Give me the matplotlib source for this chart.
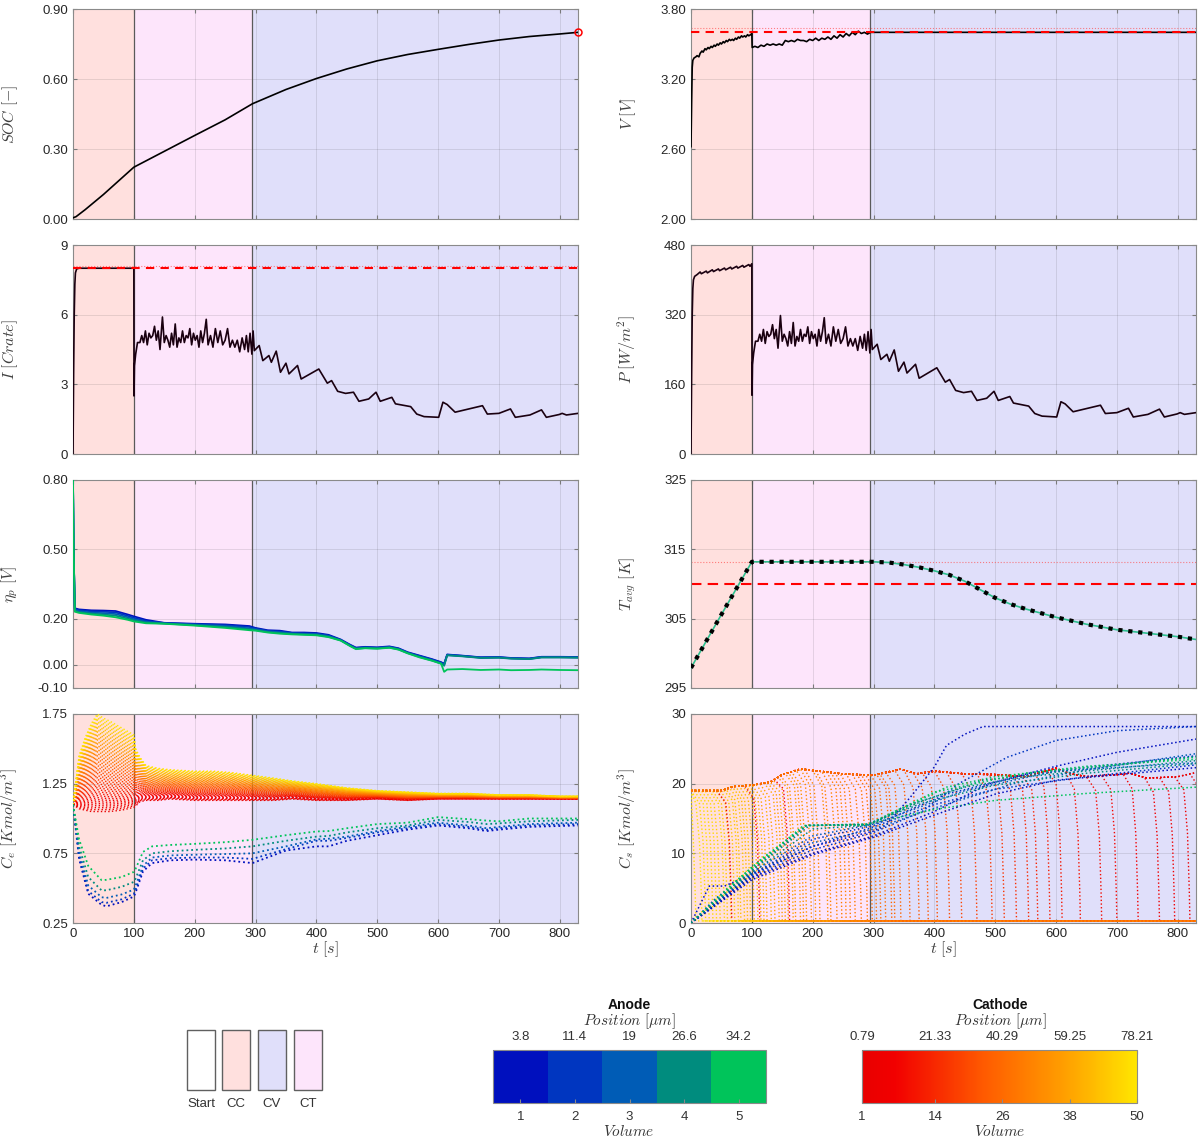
import numpy as np
import matplotlib.pyplot as plt
from matplotlib.colors import ListedColormap, LinearSegmentedColormap, BoundaryNorm, Normalize
from matplotlib.cm import ScalarMappable
from matplotlib.patches import Rectangle

plt.rcParams['font.family'] = ['Liberation Sans', 'DejaVu Sans']
plt.rcParams['mathtext.fontset'] = 'cm'
plt.rcParams['axes.unicode_minus'] = False

# ---------------- data ----------------
phase_edges = [0, 100, 295, 830]
phase_names = ['CC', 'CT', 'CV']

soc_t = [0, 5, 20, 50, 100, 150, 200, 250, 295, 350, 400, 450, 500, 550, 600, 650, 700, 750, 800, 830]
soc = [0.005, 0.01, 0.04, 0.105, 0.222, 0.29, 0.358, 0.425, 0.494, 0.555, 0.602, 0.643, 0.678, 0.705,
       0.727, 0.748, 0.767, 0.782, 0.793, 0.80]

v_t = [0, 1, 2, 3, 5, 8, 10, 13, 15, 18, 20, 23, 25, 28, 30, 33, 35, 38, 40, 43, 45, 48, 50,
       53, 55, 58, 60, 63, 65, 68, 70, 73, 75, 78, 80, 83, 85, 88, 90, 93, 95, 98, 100,
       100.5, 105, 110, 115, 120, 125, 130, 135, 140, 145, 150, 155, 160, 165, 170, 175, 180, 185, 190, 195, 200,
       205, 210, 215, 220, 225, 230, 235, 240, 245, 250, 255, 260, 265, 270, 275, 280, 285, 290, 295, 830]
v = [2.62, 3.00, 3.30, 3.36, 3.38, 3.39, 3.40, 3.39, 3.42, 3.44, 3.43, 3.46, 3.45, 3.47, 3.46, 3.48, 3.47, 3.49, 3.48, 3.50, 3.49, 3.51, 3.50,
     3.52, 3.51, 3.53, 3.52, 3.54, 3.53, 3.54, 3.53, 3.55, 3.54, 3.56, 3.55, 3.57, 3.56, 3.57, 3.56, 3.58, 3.57, 3.58, 3.59,
     3.47, 3.48, 3.47, 3.49, 3.48, 3.50, 3.49, 3.50, 3.49, 3.50, 3.49, 3.53, 3.52, 3.53, 3.52, 3.54, 3.53, 3.53, 3.52, 3.54, 3.53,
     3.55, 3.53, 3.55, 3.54, 3.56, 3.54, 3.57, 3.55, 3.58, 3.56, 3.59, 3.57, 3.60, 3.58, 3.61, 3.59, 3.60, 3.585, 3.60, 3.60]
v_cut = 3.60
v_cut2 = 3.64

i_cc_t = [0, 1, 2, 3, 4, 6, 10, 100]
i_cc = [0, 3.5, 6.0, 7.3, 7.8, 7.97, 8.0, 8.0]
p_cc_t = [0, 1, 2, 3, 4, 6, 10, 15, 17, 25, 27, 35, 37, 45, 47, 55, 57, 65, 67, 75, 77, 85, 87, 95, 97, 100]
p_cc = [0, 180, 320, 380, 400, 408, 412, 418, 414, 420, 416, 423, 419, 425, 421, 427, 423, 429, 425, 431, 427,
        433, 429, 435, 431, 437]

rest_t = [100.3, 101, 103, 106, 110, 113, 116, 119, 122, 125, 128, 131, 134, 137, 140, 143, 147, 150, 153, 156,
          159, 162, 165, 168, 171, 174, 177, 180, 183, 186, 189, 192, 195, 198, 201, 204, 207, 210, 213, 216,
          219, 222, 226, 230, 234, 238, 242, 246, 250, 254, 258, 262, 266, 270, 274, 278, 282, 285, 288, 291, 294, 296,
          298, 306, 312, 322, 326, 334, 341, 350, 355, 369, 375, 404, 418, 425, 435, 448, 461, 470, 486, 498,
          505, 524, 530, 555, 565, 577, 601, 608, 615, 628, 673, 681, 700, 719, 727, 751, 770, 778, 799, 804, 811, 830]
i_rest = [2.5, 3.8, 4.3, 4.8, 4.8, 5.1, 4.8, 5.3, 4.7, 5.2, 5.0, 5.1, 5.5, 4.9, 5.3, 4.5, 5.9, 4.8, 5.1, 4.9,
          4.6, 5.2, 4.7, 5.6, 4.6, 5.0, 4.8, 5.3, 4.8, 5.1, 5.0, 5.4, 4.7, 5.2, 4.9, 5.1, 4.6, 5.3, 4.8, 5.2,
          5.8, 4.7, 5.1, 4.6, 5.4, 4.8, 5.3, 4.7, 4.9, 5.4, 4.6, 4.9, 4.6, 4.9, 4.4, 5.0, 4.5, 5.1, 4.4, 5.2, 4.3, 5.3,
          4.45, 4.67, 4.02, 4.24, 3.95, 4.43, 3.52, 3.91, 3.45, 3.81, 3.23, 3.66, 3.05, 3.16, 2.70, 2.61, 2.66, 2.27, 2.37, 2.66,
          2.27, 2.44, 2.16, 2.04, 1.72, 1.61, 1.58, 2.23, 2.13, 1.80, 2.08, 1.72, 1.75, 1.94, 1.58, 1.68, 1.90, 1.58, 1.70, 1.75, 1.68, 1.75]
p_rest = [135, 205, 232, 259, 259, 275, 259, 286, 254, 281, 270, 275, 297, 265, 286, 243, 318, 259, 275, 265,
          248, 281, 254, 302, 248, 270, 259, 286, 259, 275, 270, 292, 254, 281, 265, 275, 248, 286, 259, 281,
          313, 254, 275, 248, 292, 259, 286, 254, 265, 292, 248, 265, 248, 265, 238, 270, 243, 275, 238, 281, 232, 286,
          240, 252, 217, 229, 213, 239, 190, 211, 186, 206, 174, 198, 165, 171, 146, 141, 144, 123, 128, 144,
          123, 132, 117, 110, 93, 87, 85, 120, 115, 97, 112, 93, 95, 105, 85, 91, 103, 85, 92, 95, 91, 95]
i_cut = 8.0
i_cut2 = 8.1

eta_t = [0, 1, 3, 10, 30, 50, 70, 90, 100, 120, 150, 200, 250, 290, 300, 320, 340, 360, 380, 400, 420,
         440, 455, 465, 480, 500, 520, 535, 550, 570, 590, 605, 610, 615, 640, 670, 700, 720, 750, 770, 800, 830]
eta_v1 = [0.80, 0.50, 0.245, 0.240, 0.236, 0.235, 0.233, 0.218, 0.210, 0.195, 0.182, 0.178, 0.175, 0.168, 0.160, 0.150,
          0.148, 0.140, 0.140, 0.138, 0.130, 0.110, 0.088, 0.075, 0.078, 0.076, 0.080, 0.072, 0.055, 0.040, 0.025,
          0.012, 0.005, 0.045, 0.040, 0.033, 0.034, 0.030, 0.028, 0.035, 0.035, 0.034]
eta_v2 = [0.80, 0.50, 0.242, 0.236, 0.232, 0.230, 0.227, 0.212, 0.204, 0.190, 0.181, 0.176, 0.172, 0.164, 0.157, 0.147,
          0.145, 0.138, 0.137, 0.135, 0.127, 0.108, 0.086, 0.073, 0.076, 0.074, 0.078, 0.070, 0.053, 0.038, 0.023,
          0.010, 0.003, 0.044, 0.039, 0.032, 0.033, 0.029, 0.027, 0.034, 0.034, 0.033]
eta_v3 = [0.80, 0.50, 0.238, 0.232, 0.226, 0.224, 0.220, 0.206, 0.198, 0.186, 0.180, 0.174, 0.168, 0.158, 0.154, 0.145,
          0.141, 0.136, 0.134, 0.133, 0.125, 0.107, 0.085, 0.071, 0.075, 0.073, 0.077, 0.069, 0.052, 0.036, 0.021,
          0.008, 0.000, 0.043, 0.038, 0.031, 0.032, 0.028, 0.026, 0.033, 0.033, 0.032]
eta_v4 = [0.80, 0.50, 0.234, 0.228, 0.222, 0.218, 0.213, 0.200, 0.193, 0.183, 0.179, 0.172, 0.164, 0.154, 0.151, 0.142,
          0.138, 0.134, 0.132, 0.130, 0.122, 0.106, 0.083, 0.070, 0.073, 0.071, 0.075, 0.067, 0.051, 0.034, 0.019,
          0.006, -0.004, 0.041, 0.037, 0.030, 0.031, 0.027, 0.025, 0.032, 0.032, 0.031]
eta_v5 = [0.80, 0.50, 0.230, 0.225, 0.218, 0.213, 0.206, 0.195, 0.188, 0.180, 0.178, 0.170, 0.160, 0.150, 0.148, 0.140,
          0.135, 0.132, 0.130, 0.128, 0.120, 0.105, 0.082, 0.068, 0.072, 0.070, 0.074, 0.066, 0.050, 0.032, 0.018,
          0.005, -0.030, -0.020, -0.018, -0.022, -0.020, -0.023, -0.022, -0.020, -0.022, -0.023]

temp_t = [0, 50, 100, 150, 200, 250, 300, 325, 350, 375, 400, 425, 450, 475, 500, 525, 550, 600, 650, 700, 750, 800, 830]
temp = [297.9, 305.6, 313.2, 313.2, 313.2, 313.2, 313.2, 313.1, 312.8, 312.4, 311.9, 311.3, 310.4, 309.2, 308.0,
        307.1, 306.4, 305.2, 304.2, 303.4, 302.9, 302.4, 302.0]
temp_ref = 310.0
temp_ref2 = 313.2

# electrolyte concentration: cathode bundle bounded by volume 1 (low) and volume 50 (high)
ce_t = [0, 10, 20, 30, 40, 50, 60, 80, 100, 103, 110, 120, 140, 160, 200, 230, 260, 295, 330, 360, 400,
        450, 500, 550, 600, 650, 700, 750, 800, 830]
ce_cath_low = [1.10, 1.07, 1.06, 1.05, 1.05, 1.05, 1.05, 1.06, 1.08, 1.09, 1.12, 1.13, 1.13, 1.14, 1.13, 1.13, 1.13,
               1.13, 1.13, 1.14, 1.13, 1.13, 1.14, 1.13, 1.14, 1.14, 1.14, 1.14, 1.14, 1.14]
ce_cath_high = [1.10, 1.45, 1.58, 1.68, 1.75, 1.72, 1.70, 1.65, 1.60, 1.50, 1.44, 1.38, 1.36, 1.35, 1.34, 1.34, 1.33,
                1.31, 1.29, 1.27, 1.25, 1.22, 1.20, 1.19, 1.18, 1.18, 1.17, 1.17, 1.16, 1.16]
ce_an_t = [0, 10, 25, 47, 55, 80, 100, 103, 115, 130, 160, 200, 250, 295, 350, 400, 420, 450, 500, 550, 600,
           650, 680, 700, 750, 830]
ce_an_v5 = [1.10, 0.85, 0.66, 0.557, 0.56, 0.58, 0.617, 0.64, 0.76, 0.80, 0.81, 0.818, 0.83, 0.847, 0.88, 0.907,
            0.91, 0.93, 0.96, 0.97, 1.01, 0.995, 0.985, 0.98, 1.0, 1.0]
ce_an_v4 = [1.10, 0.80, 0.58, 0.484, 0.485, 0.51, 0.545, 0.57, 0.70, 0.75, 0.765, 0.775, 0.785, 0.80, 0.84, 0.87,
            0.875, 0.90, 0.93, 0.95, 0.99, 0.975, 0.96, 0.965, 0.98, 0.99]
ce_an_v3 = [1.10, 0.76, 0.52, 0.435, 0.43, 0.455, 0.49, 0.52, 0.66, 0.72, 0.735, 0.74, 0.745, 0.75, 0.80, 0.85,
            0.855, 0.87, 0.91, 0.94, 0.97, 0.95, 0.93, 0.94, 0.96, 0.97]
ce_an_v2 = [1.10, 0.73, 0.48, 0.40, 0.395, 0.42, 0.46, 0.49, 0.64, 0.70, 0.715, 0.72, 0.72, 0.71, 0.78, 0.84,
            0.84, 0.86, 0.90, 0.93, 0.96, 0.94, 0.92, 0.93, 0.95, 0.96]
ce_an_v1 = [1.10, 0.71, 0.46, 0.38, 0.37, 0.40, 0.44, 0.47, 0.62, 0.68, 0.70, 0.705, 0.70, 0.68, 0.77, 0.80,
            0.80, 0.84, 0.88, 0.92, 0.95, 0.93, 0.91, 0.92, 0.94, 0.95]

# solid concentration, cathode: common plateau, then each volume falls to the floor at its own time
cs_plat_t = [0, 50, 70, 100, 130, 150, 180, 200, 250, 300, 345, 370, 400, 450, 500, 550, 600, 620, 650, 700, 720, 750, 800, 830]
cs_plat_v = [19.0, 19.0, 19.6, 19.8, 20.2, 21.3, 22.1, 21.9, 21.4, 21.2, 22.1, 21.4, 21.8, 21.4, 21.3, 21.0, 22.2,
             21.5, 21.0, 21.3, 21.5, 20.8, 21.0, 21.6]
cs_floor = 0.3
cs_drop_t = [900, 900, 845, 820, 795, 770, 735, 700, 675, 640, 610, 590, 570, 555, 535, 515, 495, 470, 445, 425,
             405, 390, 375, 360, 345, 335, 320, 305, 290, 270, 255, 240, 225, 205, 190, 180, 168, 155, 145, 132,
             120, 110, 98, 88, 78, 66, 55, 42, 30, 18]
cs_extra_vol = [2, 5, 8, 49, 48, 47, 46, 45, 44, 43, 42, 41, 40, 39, 38, 37, 36, 35, 34, 33, 32, 31, 30, 29,
                28, 27, 26, 25]
cs_extra_drop = [67, 113, 162, 8, 24, 36, 48, 60, 72, 82, 93, 104, 115, 125, 138, 150, 160, 172, 185, 198, 212,
                 230, 248, 262, 280, 298, 312, 330]
drop_dt = [-25, -10, -4, -1, 0]
drop_frac = [1.0, 0.9, 0.6, 0.2, 0.0]

cs_anode_vol = [1, 2, 1, 3, 5, 4, 2, 5, 4, 1, 2, 3, 5, 4]
cs_anode_t = [
    [0, 30, 55, 100, 200, 300, 320, 360, 400, 420, 450, 480, 830],
    [0, 100, 200, 300, 380, 440, 520, 600, 700, 830],
    [0, 100, 200, 300, 400, 490, 600, 700, 830],
    [0, 100, 200, 300, 400, 530, 650, 830],
    [0, 60, 120, 190, 290, 350, 420, 500, 650, 830],
    [0, 100, 195, 290, 360, 450, 550, 830],
    [0, 100, 200, 300, 400, 500, 650, 830],
    [0, 100, 185, 290, 400, 500, 650, 830],
    [0, 100, 200, 290, 380, 480, 830],
    [0, 100, 200, 300, 400, 500, 600, 830],
    [0, 100, 200, 300, 420, 560, 830],
    [0, 40, 100, 200, 300, 450, 600, 830],
    [0, 50, 100, 190, 290, 400, 550, 830],
    [0, 100, 190, 290, 380, 500, 650, 830],
]
cs_anode_v = [
    [0, 5.3, 5.3, 7.0, 11.0, 13.2, 14.0, 18.0, 22.4, 25.5, 27.1, 28.2, 28.2],
    [0, 6.6, 10.5, 13.0, 16.0, 20.0, 23.8, 26.2, 27.6, 28.2],
    [0, 6.5, 10.0, 12.5, 16.0, 20.0, 22.5, 24.5, 26.4],
    [0, 7.0, 11.5, 13.5, 16.5, 20.0, 22.0, 24.3],
    [0, 5.0, 9.5, 14.0, 14.1, 16.5, 19.5, 21.0, 22.5, 23.5],
    [0, 7.5, 14.0, 14.1, 17.0, 19.5, 21.0, 23.3],
    [0, 6.8, 11.0, 13.8, 17.0, 19.2, 21.0, 22.7],
    [0, 7.8, 14.0, 14.2, 16.3, 17.6, 18.6, 19.5],
    [0, 7.2, 13.5, 14.0, 17.5, 20.5, 23.9],
    [0, 6.2, 9.8, 12.3, 15.5, 18.5, 20.5, 22.3],
    [0, 7.0, 12.0, 14.0, 18.5, 21.5, 24.0],
    [0, 3.5, 7.3, 12.5, 14.2, 19.0, 21.8, 23.0],
    [0, 4.0, 8.0, 14.0, 14.1, 18.8, 21.5, 23.8],
    [0, 7.6, 14.0, 14.2, 17.2, 19.8, 21.5, 22.9],
]

anode_vol = [1, 2, 3, 4, 5]
anode_pos = ['3.8', '11.4', '19', '26.6', '34.2']
cath_vol = [1, 14, 26, 38, 50]
cath_pos = ['0.79', '21.33', '40.29', '59.25', '78.21']
legend_names = ['Start', 'CC', 'CV', 'CT']

# ---------------- styling ----------------
W, H = 1200, 1142
phase_col = {'Start': '#FFFFFF', 'CC': '#FFE0DE', 'CT': '#FDE5FB', 'CV': '#E0DFFA'}
anode_colors = ['#0010BE', '#0036C0', '#005CB6', '#008C7E', '#00C45A']
cath_cmap = LinearSegmentedColormap.from_list(
    'cath', [(0, '#E80000'), (0.12, '#F20000'), (0.45, '#FF5C00'), (0.75, '#FFA200'), (1, '#FFE600')])
cath_norm = Normalize(1, 50)

fig = plt.figure(figsize=(W / 100, H / 100), dpi=100)

col_x = [73, 691]
row_y = [(9, 219), (245, 454), (480, 688), (714, 923)]


def make_ax(col, row):
    x0 = col_x[col]
    top, bot = row_y[row]
    return fig.add_axes([x0 / W, 1 - bot / H, 505 / W, (bot - top) / H])


def style(ax, ylim, yticks, ylabels, ylabel, bottom=False):
    for (a, b), name in zip(zip(phase_edges[:-1], phase_edges[1:]), phase_names):
        ax.axvspan(a, b, color=phase_col[name], lw=0, zorder=0)
    for x in phase_edges[1:3]:
        ax.axvline(x, color='#5a5a5a', lw=0.9, zorder=1.5)
    ax.set_axisbelow(True)
    ax.set_xlim(0, 830)
    ax.set_ylim(*ylim)
    ax.set_xticks(range(0, 801, 100))
    ax.set_yticks(yticks)
    ax.set_yticklabels(ylabels)
    ax.grid(True, color='#303030', alpha=0.12, lw=0.7)
    ax.tick_params(direction='in', top=True, right=True, length=3, labelsize=9.5,
                   colors='#7a7a7a', labelcolor='#262626')
    for s in ax.spines.values():
        s.set_color('#8a8a8a')
        s.set_linewidth(0.8)
    if bottom:
        ax.set_xticklabels([str(x) for x in range(0, 801, 100)])
        ax.set_xlabel(r'$t\ [s]$', fontsize=11.5, color='#404040', labelpad=0)
    else:
        ax.set_xticklabels([])
    ax.set_ylabel(ylabel, fontsize=11.5, color='#404040')
    ax.yaxis.set_label_coords(-0.105, 0.5)


# SOC
ax = make_ax(0, 0)
style(ax, (0, 0.9), [0, 0.3, 0.6, 0.9], ['0.00', '0.30', '0.60', '0.90'], r'$SOC\ [-]$')
ax.plot(soc_t, soc, color='black', lw=1.2, zorder=3)
ax.plot(soc_t[-1], soc[-1], 'o', mfc='none', mec='red', ms=5, mew=1.1, zorder=4, clip_on=False)

# V
ax = make_ax(1, 0)
style(ax, (2.0, 3.8), [2.0, 2.6, 3.2, 3.8], ['2.00', '2.60', '3.20', '3.80'], r'$V\ [V]$')
ax.plot(v_t, v, color='black', lw=1.2, zorder=3)
ax.axhline(v_cut2, color='#ff5050', lw=0.8, ls=':', alpha=0.7, zorder=2)
ax.axhline(v_cut, color='red', lw=1.5, ls=(0, (4, 3)), zorder=4)

# I
ax = make_ax(0, 1)
style(ax, (0, 9), [0, 3, 6, 9], ['0', '3', '6', '9'], r'$I\ [Crate]$')
ax.plot(i_cc_t + rest_t, i_cc + i_rest, color='#1a0010', lw=1.2, zorder=3)
ax.axhline(i_cut2, color='#ff5050', lw=0.8, ls=':', alpha=0.7, zorder=2)
ax.axhline(i_cut, color='red', lw=1.5, ls=(0, (4, 3)), zorder=4)

# P
ax = make_ax(1, 1)
style(ax, (0, 480), [0, 160, 320, 480], ['0', '160', '320', '480'], r'$P\ [W/m^2]$')
ax.plot(p_cc_t + rest_t, p_cc + p_rest, color='#1a0010', lw=1.2, zorder=3)

# eta_p
ax = make_ax(0, 2)
style(ax, (-0.1, 0.8), [-0.1, 0.0, 0.2, 0.5, 0.8], ['-0.10', '0.00', '0.20', '0.50', '0.80'], r'$\eta_p\ [V]$')
for vals, c in zip([eta_v1, eta_v2, eta_v3, eta_v4, eta_v5], anode_colors):
    ax.plot(eta_t, vals, color=c, lw=1.3, zorder=3)

# T
ax = make_ax(1, 2)
style(ax, (295, 325), [295, 305, 315, 325], ['295', '305', '315', '325'], r'$T_{avg}\ [K]$')
ax.axhline(temp_ref2, color='#ff5050', lw=0.8, ls=':', alpha=0.7, zorder=2)
ax.axhline(temp_ref, color='red', lw=1.5, ls=(0, (5, 3)), zorder=2)
ax.plot(temp_t, temp, color='#2fbf8f', lw=1.2, zorder=3)
ax.plot(temp_t, temp, color='black', lw=3.0, ls=(0, (1, 1.4)), zorder=4)

# Ce
ax = make_ax(0, 3)
style(ax, (0.25, 1.75), [0.25, 0.75, 1.25, 1.75], ['0.25', '0.75', '1.25', '1.75'],
      r'$C_e\ [Kmol/m^3]$', bottom=True)
low = np.array(ce_cath_low)
high = np.array(ce_cath_high)
for k, f in zip(range(1, 51), np.linspace(0, 1, 50)):
    ax.plot(ce_t, low + f * (high - low), color=cath_cmap(cath_norm(k)), lw=1.0, ls=':', zorder=3)
for vals, c in zip([ce_an_v1, ce_an_v2, ce_an_v3, ce_an_v4, ce_an_v5], anode_colors):
    ax.plot(ce_an_t, vals, color=c, lw=1.3, ls=':', zorder=4)

# Cs
ax = make_ax(1, 3)
style(ax, (0, 30), [0, 10, 20, 30], ['0', '10', '20', '30'], r'$C_s\ [Kmol/m^3]$', bottom=True)


def cath_line(td):
    tt = [t for t in cs_plat_t if t < td + drop_dt[0]]
    vv = [cs_plat_v[cs_plat_t.index(t)] for t in tt]
    if td < 830 + 30:
        for dt, fr in zip(drop_dt, drop_frac):
            t = td + dt
            if t <= 0:
                continue
            pv = np.interp(t, cs_plat_t, cs_plat_v)
            tt.append(t)
            vv.append(cs_floor + fr * (pv - cs_floor))
        tt.append(830)
        vv.append(cs_floor)
    else:
        tt.append(830)
        vv.append(cs_plat_v[-1])
    if tt[0] > 0:
        tt.insert(0, 0)
        vv.insert(0, cs_plat_v[0])
    return tt, vv


for k, td in zip(range(1, 51), cs_drop_t):
    tt, vv = cath_line(td)
    ax.plot(tt, vv, color=cath_cmap(cath_norm(k)), lw=1.0, ls=':', zorder=3)
for k, td in zip(cs_extra_vol, cs_extra_drop):
    tt, vv = cath_line(td)
    ax.plot(tt, vv, color=cath_cmap(cath_norm(k)), lw=1.0, ls=':', zorder=3)
for vol, tt, vv in zip(cs_anode_vol, cs_anode_t, cs_anode_v):
    ax.plot(tt, vv, color=anode_colors[vol - 1], lw=1.1, ls=':', zorder=4)

# ---------------- bottom legend ----------------
lax = fig.add_axes([0, 0, 1, 1], zorder=-1)
lax.set_xlim(0, W)
lax.set_ylim(H, 0)
lax.axis('off')
for x0, name in zip([187, 222, 258, 294], legend_names):
    lax.add_patch(Rectangle((x0, 1030), 28, 60, facecolor=phase_col[name], edgecolor='#606060', lw=1))
    lax.text(x0 + 14, 1104, name, ha='center', va='center', fontsize=9.5, color='#333333')


def finish_cbar(cb, ticks, top_labels):
    cb.outline.set_edgecolor('#8a8a8a')
    cb.ax.xaxis.set_tick_params(which='both', direction='in', length=3, labelsize=9.5,
                                color='#8a8a8a', labelcolor='#333333', pad=6)
    cb.ax.minorticks_off()
    sec = cb.ax.secondary_xaxis('top')
    sec.set_xticks(ticks, labels=top_labels)
    sec.tick_params(direction='in', length=3, labelsize=9.5, color='#8a8a8a', labelcolor='#333333', pad=5)
    sec.spines['top'].set_visible(False)


# anode colour bar
cax = fig.add_axes([493 / W, 1 - 1103 / H, 273 / W, 53 / H])
a_cmap = ListedColormap(anode_colors)
a_norm = BoundaryNorm([0.5, 1.5, 2.5, 3.5, 4.5, 5.5], a_cmap.N)
cb = fig.colorbar(ScalarMappable(norm=a_norm, cmap=a_cmap), cax=cax, orientation='horizontal', ticks=anode_vol)
finish_cbar(cb, anode_vol, anode_pos)

# cathode colour bar
cax2 = fig.add_axes([862 / W, 1 - 1103 / H, 275 / W, 53 / H])
cb2 = fig.colorbar(ScalarMappable(norm=cath_norm, cmap=cath_cmap), cax=cax2, orientation='horizontal', ticks=cath_vol)
finish_cbar(cb2, cath_vol, cath_pos)

for cx, title in [(629, 'Anode'), (1000, 'Cathode')]:
    lax.text(cx, 1005, title, ha='center', va='center', fontsize=10, fontweight='bold', color='#111111')
    lax.text(cx, 1021, r'$Position\ [\mu m]$', ha='center', va='center', fontsize=11, color='#333333')
    lax.text(cx, 1131, r'$Volume$', ha='center', va='center', fontsize=11, color='#333333')

fig.savefig('out.png', dpi=100)
